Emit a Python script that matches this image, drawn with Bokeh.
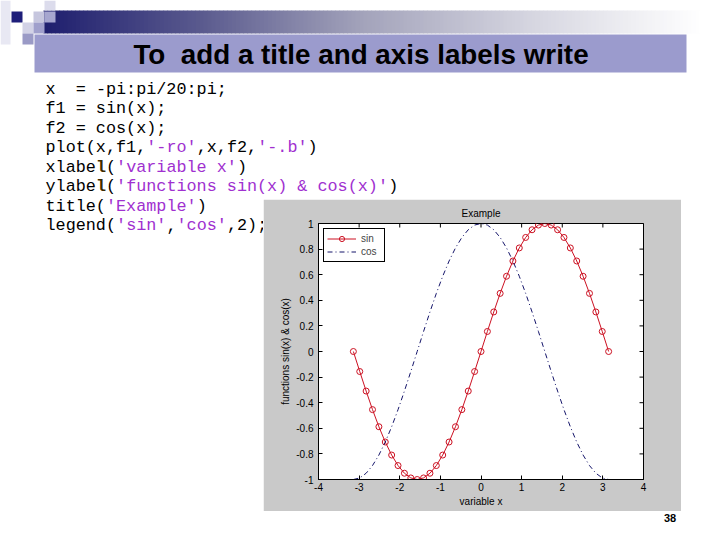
import math
from bokeh.plotting import figure
from bokeh.models import Range1d, Label, LinearAxis, FixedTicker, Legend, LegendItem, Spacer
from bokeh.layouts import column, row
from bokeh.embed import file_html
from bokeh.resources import INLINE

# ---------------- data ----------------
x_vals = [-3.1416, -2.9845, -2.8274, -2.6704, -2.5133, -2.3562, -2.1991, -2.0420, -1.8850, -1.7279,
          -1.5708, -1.4137, -1.2566, -1.0996, -0.9425, -0.7854, -0.6283, -0.4712, -0.3142, -0.1571,
          0.0, 0.1571, 0.3142, 0.4712, 0.6283, 0.7854, 0.9425, 1.0996, 1.2566, 1.4137,
          1.5708, 1.7279, 1.8850, 2.0420, 2.1991, 2.3562, 2.5133, 2.6704, 2.8274, 2.9845, 3.1416]
sin_vals = [0.0, -0.1564, -0.3090, -0.4540, -0.5878, -0.7071, -0.8090, -0.8910, -0.9511, -0.9877,
            -1.0, -0.9877, -0.9511, -0.8910, -0.8090, -0.7071, -0.5878, -0.4540, -0.3090, -0.1564,
            0.0, 0.1564, 0.3090, 0.4540, 0.5878, 0.7071, 0.8090, 0.8910, 0.9511, 0.9877,
            1.0, 0.9877, 0.9511, 0.8910, 0.8090, 0.7071, 0.5878, 0.4540, 0.3090, 0.1564, 0.0]
cos_vals = [-1.0, -0.9877, -0.9511, -0.8910, -0.8090, -0.7071, -0.5878, -0.4540, -0.3090, -0.1564,
            0.0, 0.1564, 0.3090, 0.4540, 0.5878, 0.7071, 0.8090, 0.8910, 0.9511, 0.9877,
            1.0, 0.9877, 0.9511, 0.8910, 0.8090, 0.7071, 0.5878, 0.4540, 0.3090, 0.1564,
            0.0, -0.1564, -0.3090, -0.4540, -0.5878, -0.7071, -0.8090, -0.8910, -0.9511, -0.9877, -1.0]
x_ticks = [-4, -3, -2, -1, 0, 1, 2, 3, 4]
x_tick_labels = ["-4", "-3", "-2", "-1", "0", "1", "2", "3", "4"]
y_ticks = [-1, -0.8, -0.6, -0.4, -0.2, 0, 0.2, 0.4, 0.6, 0.8, 1]
y_tick_labels = ["-1", "-0.8", "-0.6", "-0.4", "-0.2", "0", "0.2", "0.4", "0.6", "0.8", "1"]
series_names = ["sin", "cos"]
chart_title = "Example"
x_label = "variable x"
y_label = "functions sin(x) & cos(x)"
slide_title = "To\u00a0 add a title and axis labels write"
page_number = "38"
# code lines: list of (text, kind, column)
code_lines = [
    [("x", "k", 0), ("= -pi:pi/20:pi;", "k", 3)],
    [("f1 = sin(x);", "k", 0)],
    [("f2 = cos(x);", "k", 0)],
    [("plot(x,f1,", "k", 0), ("'-ro'", "s", 10), (",x,f2,", "k", 15), ("'-.b'", "s", 21), (")", "k", 26)],
    [("xlabe", "k", 0), ("l", "b", 5), ("(", "k", 6), ("'variable x'", "s", 7), (")", "k", 19)],
    [("ylabe", "k", 0), ("l", "b", 5), ("(", "k", 6), ("'functions sin(x) & cos(x)'", "s", 7), (")", "k", 34)],
    [("title(", "k", 0), ("'Example'", "s", 6), (")", "k", 15)],
    [("legend(", "k", 0), ("'sin'", "s", 7), (",", "k", 12), ("'cos'", "s", 13), (",2)", "k", 18), (";", "k", 21)],
]

# ---------------- layout constants (page pixels) ----------------
W, H = 704, 524
TOP_H = 196                     # top slide strip (title bar + first code lines)
MX0, MY0, MX1, MY1 = 263, 199, 681, 511   # MATLAB figure window
FL, FR, FT, FB = 318, 643, 223, 479       # MATLAB axes frame
RED = "#cc1122"
BLUE = "#15156a"
GREY = "#c9c9c9"
FONT = "Liberation Sans"
MONO = "Liberation Mono"


def page_fig(x0, y0, w, h):
    """A blank figure whose data coordinates are page pixels."""
    f = figure(width=w, height=h, x_range=Range1d(x0, x0 + w), y_range=Range1d(y0 + h, y0),
               x_axis_type=None, y_axis_type=None, output_backend="svg",
               toolbar_location=None, min_border=0)
    f.border_fill_color = "white"
    f.background_fill_color = "white"
    f.outline_line_color = None
    return f


def add_label(f, px, py, text, font=FONT, size="10px", color="black", style="normal",
              align="left", baseline="middle"):
    f.add_layout(Label(x=px, y=py, text=text, text_font=font, text_font_size=size,
                       text_color=color, text_font_style=style,
                       text_align=align, text_baseline=baseline))


CODE_SIZE = 16.8
CW = 0.6 * CODE_SIZE
kind_color = {"k": "black", "s": "#a030d0", "b": "#3d2b00"}


def add_code(f, lines):
    for i in lines:
        mid = 89 + 19.45 * i
        for text, kind, col in code_lines[i]:
            add_label(f, 45 + col * CW, mid, text, font=MONO, size="%.1fpx" % CODE_SIZE,
                      color=kind_color[kind], style="bold" if kind == "b" else "normal")


# ================= top strip =================
top = page_fig(0, 0, W, TOP_H)

stops = [(43, (30, 30, 110)), (200, (90, 90, 142)), (360, (162, 162, 186)),
         (540, (216, 216, 226)), (700, (255, 255, 255)), (720, (255, 255, 255))]


def grad_color(x):
    for (xa, ca), (xb, cb) in zip(stops[:-1], stops[1:]):
        if xa <= x <= xb:
            t = (x - xa) / (xb - xa)
            c = [int(round(ca[i] + t * (cb[i] - ca[i]))) for i in range(3)]
            return "#%02x%02x%02x" % tuple(c)
    return "#ffffff"


step = 4
gl = list(range(43, W, step))
top.quad(left=gl, right=[v + step + 0.6 for v in gl], top=10, bottom=33,
         fill_color=[grad_color(v + step / 2) for v in gl], line_color=None)

sq = [(0, 0, 10, 44, "#e8e8f3"), (11, 11, 22, 22, "#1e1e7a"), (33, 11, 44, 22, "#c6c6de"),
      (44, 0, 55, 10, "#dcdcec"), (44, 11, 55, 22, "#a6a6cf"), (22, 22, 33, 33, "#d2d2e6"),
      (33, 22, 44, 33, "#a0a0cc"), (22, 33, 33, 44, "#9a9ac6")]
top.quad(left=[s[0] for s in sq], right=[s[2] for s in sq], top=[s[1] for s in sq],
         bottom=[s[3] for s in sq], fill_color=[s[4] for s in sq], line_color=None)

top.quad(left=34, right=686, top=34, bottom=72, fill_color="#9b9bcd", line_color=None)
add_label(top, 360.5, 54, slide_title, size="27.8px", style="bold", align="center")
add_code(top, range(0, 6))

# ================= left strip (code continues, cut by the figure window) =================
left = page_fig(0, TOP_H, MX0, MY1 - TOP_H)
add_code(left, range(6, 8))

# ================= MATLAB figure =================
mw, mh = MX1 - MX0, MY1 - MY0
p = figure(width=mw, height=mh, x_range=Range1d(-4, 4), y_range=Range1d(-1, 1),
           x_axis_type=None, y_axis_type=None, output_backend="svg", toolbar_location=None,
           min_border_left=FL - MX0, min_border_right=MX1 - FR,
           min_border_top=FT - MY0, min_border_bottom=MY1 - FB,
           title=chart_title)
p.border_fill_color = GREY
p.background_fill_color = "white"
p.outline_line_color = "black"
p.outline_line_width = 1
p.outline_line_alpha = 1.0
p.title.align = "center"
p.title.text_font = FONT
p.title.text_font_size = "10px"
p.title.text_font_style = "normal"
p.title.text_color = "black"
p.title.standoff = 9

r_sin = p.line(x_vals, sin_vals, line_color=RED, line_width=1)
r_sin_m = p.scatter(x_vals, sin_vals, marker="circle", size=6, fill_color=None,
                    line_color=RED, line_width=1)
r_cos = p.line(x_vals, cos_vals, line_color=BLUE, line_width=1, line_dash="5 3 1 3")

# inward ticks on the top and right edges of the box (half of each dash is clipped away)
p.scatter(x=x_ticks, y=[p.y_range.end] * len(x_ticks), marker="dash", size=8,
          angle=math.pi / 2, line_color="black", line_width=1)
p.scatter(x=[p.x_range.end] * len(y_ticks), y=y_ticks, marker="dash", size=8,
          line_color="black", line_width=1)


def style_axis(ax):
    ax.major_tick_in = 4
    ax.major_tick_out = 0
    ax.minor_tick_line_color = None
    ax.axis_line_color = "black"
    ax.axis_line_width = 1
    ax.major_tick_line_color = "black"
    ax.major_label_text_font = FONT
    ax.major_label_text_font_size = "10px"
    ax.major_label_text_color = "black"
    ax.axis_label_text_font = FONT
    ax.axis_label_text_font_size = "10px"
    ax.axis_label_text_font_style = "normal"
    ax.axis_label_text_color = "black"


xb = LinearAxis(ticker=FixedTicker(ticks=x_ticks),
                major_label_overrides=dict(zip(x_ticks, x_tick_labels)), axis_label=x_label)
style_axis(xb)
xb.major_label_standoff = 3
xb.axis_label_standoff = 2
p.add_layout(xb, "below")

yl = LinearAxis(ticker=FixedTicker(ticks=y_ticks),
                major_label_overrides=dict(zip(y_ticks, y_tick_labels)), axis_label=y_label)
style_axis(yl)
yl.major_label_standoff = 5
yl.axis_label_standoff = 2
p.add_layout(yl, "left")

legend = Legend(items=[LegendItem(label=series_names[0], renderers=[r_sin, r_sin_m]),
                       LegendItem(label=series_names[1], renderers=[r_cos])],
                location="top_left")
legend.margin = 5
legend.padding = 3
legend.spacing = 0
legend.glyph_width = 29
legend.glyph_height = 13
legend.label_height = 13
legend.label_standoff = 5
legend.label_text_font = FONT
legend.label_text_font_size = "10px"
legend.border_line_color = "black"
legend.border_line_width = 1
legend.border_line_alpha = 1.0
legend.background_fill_color = "white"
legend.background_fill_alpha = 1.0
p.add_layout(legend, "center")

right = page_fig(MX1, TOP_H, W - MX1, MY1 - TOP_H)

# ================= page number strip =================
bottom = page_fig(0, MY1, W, H - MY1)
add_label(bottom, 669.5, 517.5, page_number, size="11px", style="bold", align="center")

middle = row(left, column(Spacer(width=mw, height=MY0 - TOP_H), p, spacing=0), right, spacing=0)
layout = column(top, middle, bottom, spacing=0)
open("out.html", "w").write(file_html(layout, INLINE))
